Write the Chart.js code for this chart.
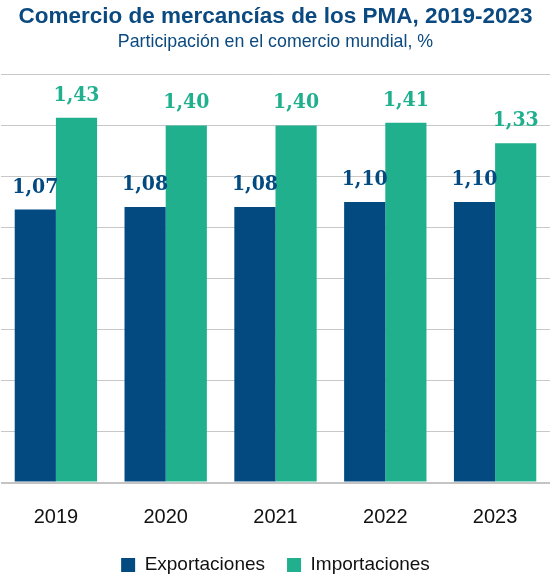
<!DOCTYPE html>
<html>
<head>
<meta charset="utf-8">
<script src="https://cdn.jsdelivr.net/npm/chart.js@4"></script>
<style>
  html, body { margin: 0; padding: 0; background: #fff; }
  #wrap { width: 550px; height: 578px; }
</style>
</head>
<body>
<div id="wrap"><canvas id="chart"></canvas></div>
<script>
const years = ["2019", "2020", "2021", "2022", "2023"];
const exportaciones = [1.07, 1.08, 1.08, 1.10, 1.10];
const importaciones = [1.43, 1.40, 1.40, 1.41, 1.33];

const DARK = "#024a80";
const GREEN = "#20b08e";

// draw the value above each bar
const valueLabels = {
  id: "valueLabels",
  afterDatasetsDraw(chart) {
    const ctx = chart.ctx;
    ctx.save();
    ctx.font = "bold 21px 'DejaVu Serif Condensed', 'DejaVu Serif'";
    ctx.textAlign = "center";
    ctx.textBaseline = "bottom";
    chart.data.datasets.forEach((ds, i) => {
      const meta = chart.getDatasetMeta(i);
      ctx.fillStyle = ds.backgroundColor;
      meta.data.forEach((bar, j) => {
        const txt = ds.data[j].toFixed(2).replace(".", ",");
        ctx.fillText(txt, bar.x, bar.y - 12);
      });
    });
    ctx.restore();
  }
};

new Chart(document.getElementById("chart"), {
  type: "bar",
  data: {
    labels: years,
    datasets: [
      { label: "Exportaciones", data: exportaciones, backgroundColor: DARK },
      { label: "Importaciones", data: importaciones, backgroundColor: GREEN }
    ]
  },
  options: {
    responsive: true,
    maintainAspectRatio: false,
    animation: false,
    layout: { padding: { left: 1, right: 0, top: 3, bottom: -6.5 } },
    datasets: { bar: { categoryPercentage: 0.75, barPercentage: 1 } },
    scales: {
      x: {
        grid: { display: false, drawTicks: false },
        border: { display: false },
        ticks: { color: "#111", font: { family: "Liberation Sans", size: 20 }, padding: 23 },
        afterFit: (s) => { s.height = 51; }
      },
      y: {
        min: 0, max: 1.6,
        ticks: { display: false, stepSize: 0.2 },
        border: { display: false },
        grid: {
          color: (c) => c.tick.value === 0 ? "#c4c4c4" : "#c8c8c8",
          lineWidth: (c) => c.tick.value === 0 ? 2 : 1,
          drawTicks: false
        }
      }
    },
    plugins: {
      title: {
        display: true,
        text: "Comercio de mercancías de los PMA, 2019-2023",
        color: "#0b4a80",
        font: { family: "Liberation Sans", size: 22.5, weight: "bold" },
        padding: { top: 0, bottom: 1 }
      },
      subtitle: {
        display: true,
        text: "Participación en el comercio mundial, %",
        color: "#0b4a80",
        font: { family: "Liberation Sans", size: 17.8 },
        padding: { top: 0, bottom: 22 }
      },
      legend: {
        position: "bottom",
        labels: {
          color: "#111",
          font: { family: "Liberation Sans", size: 19 },
          boxWidth: 14, boxHeight: 14, padding: 22
        }
      },
      tooltip: { enabled: false }
    }
  },
  plugins: [valueLabels]
});
</script>
</body>
</html>
